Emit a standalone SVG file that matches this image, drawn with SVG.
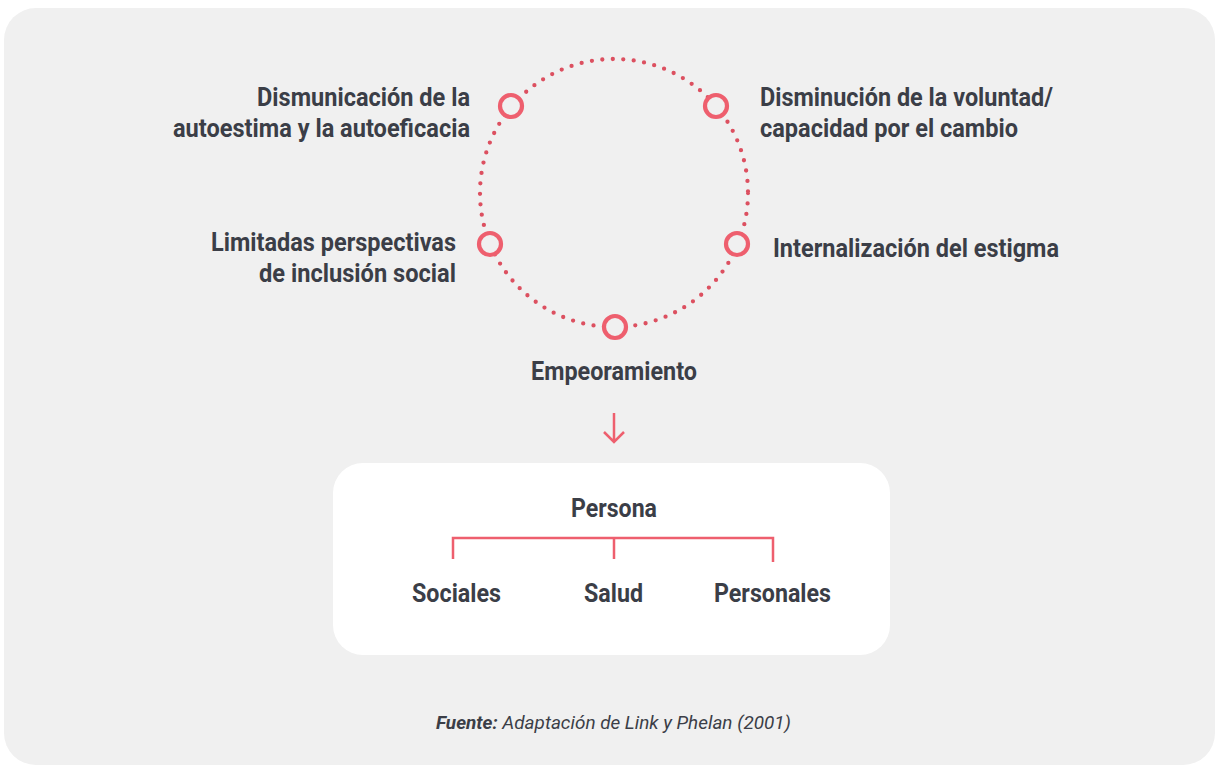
<svg xmlns="http://www.w3.org/2000/svg" width="1219" height="769" viewBox="0 0 1219 769">
<style>
.t{font-family:"Roboto","Liberation Sans",sans-serif;font-weight:700;font-size:25px;fill:#3b3e47}
.f{font-family:"Roboto","Liberation Sans",sans-serif;font-style:italic;font-size:19px;fill:#3b3e47}
.node{fill:#f0f0f0;stroke:#ee5f6e;stroke-width:4.2}
.line{fill:none;stroke:#ee5f6e;stroke-width:2.5}
</style>
<rect width="1219" height="769" fill="#ffffff"/>
<rect x="4" y="8" width="1211" height="757" rx="32" fill="#f0f0f0"/>
<rect x="333" y="463" width="557" height="192" rx="30" fill="#ffffff"/>
<g id="connectors">
<circle cx="614" cy="193" r="134" fill="none" stroke="#dc5060" stroke-width="4.3" stroke-linecap="round" stroke-dasharray="0 10.5"/>
<path class="line" d="M614 413V442M604 432L614 442L624 432" stroke-width="2.2"/>
<path class="line" d="M453 559V538H773V562M614 538V559"/>
</g>
<g id="n1"><circle class="node" cx="511" cy="106" r="11"/>
<text class="t" x="470" y="106" text-anchor="end" textLength="213" lengthAdjust="spacingAndGlyphs">Dismunicación de la</text>
<text class="t" x="470" y="137" text-anchor="end" textLength="297" lengthAdjust="spacingAndGlyphs">autoestima y la autoeficacia</text></g>
<g id="n2"><circle class="node" cx="716" cy="106" r="11"/>
<text class="t" x="760" y="106" textLength="293" lengthAdjust="spacingAndGlyphs">Disminución de la voluntad/</text>
<text class="t" x="760" y="137" textLength="258" lengthAdjust="spacingAndGlyphs">capacidad por el cambio</text></g>
<g id="n3"><circle class="node" cx="737" cy="244" r="11"/>
<text class="t" x="773" y="257" textLength="286" lengthAdjust="spacingAndGlyphs">Internalización del estigma</text></g>
<g id="n4"><circle class="node" cx="490" cy="244" r="11"/>
<text class="t" x="456" y="251" text-anchor="end" textLength="245" lengthAdjust="spacingAndGlyphs">Limitadas perspectivas</text>
<text class="t" x="456" y="282" text-anchor="end" textLength="197" lengthAdjust="spacingAndGlyphs">de inclusión social</text></g>
<g id="n5"><circle class="node" cx="615" cy="327" r="11"/>
<text class="t" x="531" y="380" textLength="166" lengthAdjust="spacingAndGlyphs">Empeoramiento</text></g>
<g id="box">
<text class="t" x="571" y="517" textLength="86" lengthAdjust="spacingAndGlyphs">Persona</text>
<text class="t" x="412" y="602" textLength="89" lengthAdjust="spacingAndGlyphs">Sociales</text>
<text class="t" x="584" y="602" textLength="59" lengthAdjust="spacingAndGlyphs">Salud</text>
<text class="t" x="714" y="602" textLength="117" lengthAdjust="spacingAndGlyphs">Personales</text>
</g>
<g id="source">
<text class="f" x="436" y="729" textLength="355" lengthAdjust="spacingAndGlyphs"><tspan font-weight="700">Fuente:</tspan> Adaptación de Link y Phelan (2001)</text>
</g>
</svg>
